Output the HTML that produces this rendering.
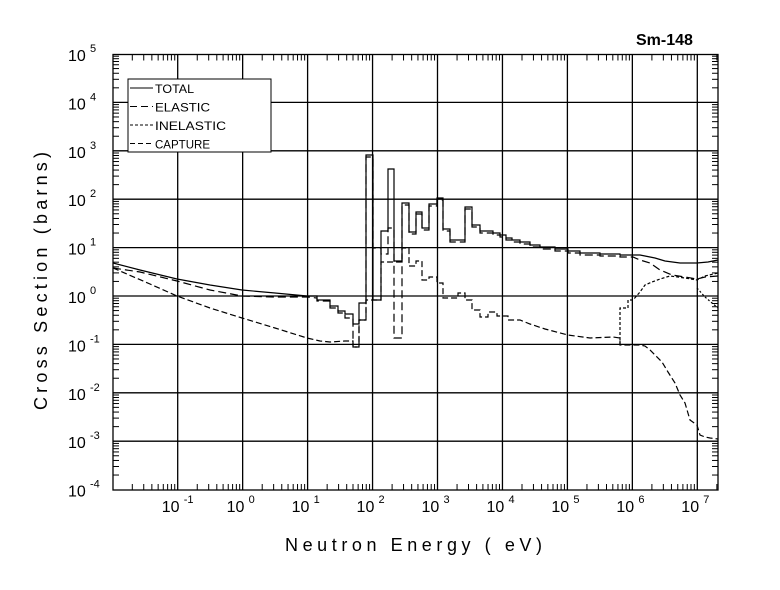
<!DOCTYPE html>
<html><head><meta charset="utf-8"><style>
html,body{margin:0;padding:0;background:#fff;}
svg{display:block;}
text{font-family:"Liberation Sans",sans-serif;fill:#000;}
</style></head><body>
<svg id="s" width="780" height="590" viewBox="0 0 780 590" xmlns="http://www.w3.org/2000/svg">
<rect width="780" height="590" fill="#fff"/>
<g id="grid" stroke="#000" stroke-width="1.3" fill="none"></g>
<g id="ticks" stroke="#000" stroke-width="1" fill="none"></g>
<rect x="113" y="54.5" width="605" height="435.5" fill="none" stroke="#000" stroke-width="1.3"/>
<g id="labels"></g>
<text x="636" y="45" font-size="16" font-weight="bold">Sm-148</text>
<text x="285" y="551" font-size="18" textLength="257" lengthAdjust="spacing">Neutron Energy (  eV)</text>
<text transform="translate(47,410) rotate(-90)" font-size="18" textLength="258" lengthAdjust="spacing">Cross Section (barns)</text>
<!-- legend -->
<rect x="128" y="79" width="143" height="73" fill="#fff" stroke="#000" stroke-width="1"/>
<g stroke="#000" stroke-width="1">
<line x1="130" y1="88" x2="153" y2="88"/>
<line x1="130" y1="106.5" x2="153" y2="106.5" stroke-dasharray="7,4"/>
<line x1="130" y1="125" x2="153" y2="125" stroke-dasharray="3,2"/>
<line x1="130" y1="143.5" x2="153" y2="143.5" stroke-dasharray="5,3"/>
</g>
<g font-size="11.5">
<text x="155" y="93" textLength="39" lengthAdjust="spacingAndGlyphs">TOTAL</text>
<text x="155" y="111.5" textLength="55" lengthAdjust="spacingAndGlyphs">ELASTIC</text>
<text x="155" y="130" textLength="71" lengthAdjust="spacingAndGlyphs">INELASTIC</text>
<text x="155" y="148.5" textLength="55" lengthAdjust="spacingAndGlyphs">CAPTURE</text>
</g>
<g fill="none" stroke="#000" stroke-width="1.2">
<!-- total -->
<polyline points="113,263 140,270 177,279 210,285 242,290 275,293 307,296 317,296 317,300 330,300 330,306 338,306 338,311 345,311 345,314 353,314 353,324 359,324 359,303 366,303 366,155 373,155 373,300 381,300 381,231 388,231 388,169 394,169 394,261 402,261 402,203 409,203 409,232 416,232 416,212 422,212 422,228 429,228 429,204 437,204 437,198 443,198 443,229 450,229 450,240 465,240 465,207 472,207 472,225 480,225 480,231 493,231 493,233 500,233 500,235 506,235 506,238 512,238 512,240 520,240 520,242 530,242 530,245 540,245 540,247 555,247 555,249 568,249 568,251 580,251 580,253 600,253 600,254 620,254 620,255 640,255 645,256 655,258 665,261 680,263 697,263 708,262 718,260"/>
<!-- elastic -->
<polyline stroke-dasharray="8,4" points="113,268 140,272 177,281 210,290 242,296 275,297 307,297 317,298 317,301 330,301 330,308 338,308 338,313 345,313 345,318 353,318 353,347 359,347 359,320 366,320 366,157 373,157 373,248 381,248 381,254 388,254 388,228 394,228 394,338 402,338 402,205 409,205 409,234 416,234 416,214 422,214 422,230 429,230 429,206 437,206 437,200 443,200 443,231 450,231 450,242 465,242 465,209 472,209 472,227 480,227 480,233 493,233 493,235 500,235 500,237 506,237 506,240 512,240 512,242 520,242 520,244 530,244 530,247 540,247 540,249 555,249 555,251 568,251 568,253 580,253 580,255 600,255 600,256 620,256 620,257 633,257 640,260 650,263 660,270 672,275 685,277 697,279 705,277 718,276"/>
<!-- inelastic -->
<polyline stroke-dasharray="3,2" points="620,345 620,308 628,308 628,300 633,300 640,292 645,285 652,282 660,279 670,276 685,278 697,280 705,276 718,273"/>
<polyline stroke-dasharray="2,2" points="697,288 705,297 712,303 718,308"/>
<!-- capture -->
<polyline stroke-dasharray="6,3" points="113,268 150,284 177,296 210,308 242,318 275,328 307,338 320,341 330,342 345,341 345,341 353,341 353,347 359,347 359,320 366,320 366,300 381,300 381,262 394,262 394,262 402,262 402,248 409,248 409,266 416,266 416,261 422,261 422,280 429,280 429,277 437,277 437,283 443,283 443,298 450,298 458,298 458,293 465,293 465,300 472,300 472,310 480,310 480,317 488,317 488,312 497,312 497,316 508,316 508,320 520,320 530,324 545,329 568,335 590,338 613,337 620,338 620,345 640,345 645,346 650,350 655,355 662,362 668,372 675,383 680,395 685,403 690,420 697,425 700,435 705,437 710,438 718,439"/>
</g>
</svg>
<script>
(function(){
var NS="http://www.w3.org/2000/svg";
function el(p,t,a){var e=document.createElementNS(NS,t);for(var k in a)e.setAttribute(k,a[k]);p.appendChild(e);return e;}
var grid=document.getElementById('grid'),ticks=document.getElementById('ticks'),lab=document.getElementById('labels');
var L=113,R=718,T=54.5,B=490;
function X(lg){return 177.7+64.95*(lg+1);}
function Y(lg){return 296-48.4*lg;}
for(var d=-1;d<=7;d++){var x=X(d);el(grid,'line',{x1:x,y1:T,x2:x,y2:B});
 var t=el(lab,'text',{x:x-16,y:512,'font-size':16});t.textContent='10';
 var s=el(lab,'text',{x:x+6,y:503,'font-size':11});s.textContent=String(d);}
for(var d=-2;d<=7;d++){for(var m=2;m<=9;m++){var lg=d+Math.log10(m);var x=X(lg);if(x<=L||x>=R)continue;
 var len=(m==5)?8:5; el(ticks,'line',{x1:x,y1:B,x2:x,y2:B-6});el(ticks,'line',{x1:x,y1:T,x2:x,y2:T+6});}}
for(var d=-4;d<=5;d++){var y=Y(d);if(d>-4&&d<5)el(grid,'line',{x1:L,y1:y,x2:R,y2:y});
 var t=el(lab,'text',{x:68,y:y+7,'font-size':16});t.textContent='10';
 var s=el(lab,'text',{x:90,y:y-2,'font-size':11});s.textContent=String(d);
 if(d<5)for(var m=2;m<=9;m++){var yy=Y(d+Math.log10(m));el(ticks,'line',{x1:L,y1:yy,x2:L+6,y2:yy});el(ticks,'line',{x1:R,y1:yy,x2:R-6,y2:yy});}}
})();
</script>
</body></html>
